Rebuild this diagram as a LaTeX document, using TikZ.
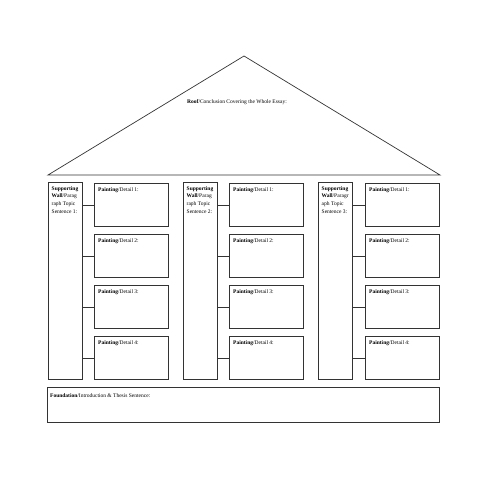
\documentclass[tikz,border=0pt]{standalone}
\usepackage{fontspec}
\setmainfont{Liberation Serif}
\begin{document}
\begin{tikzpicture}[x=1pt,y=-1pt,
  frame/.style={draw=black!80,line width=0.9pt,rectangle,inner sep=0pt,anchor=north west},
  roofline/.style={draw=black!80,line width=0.7pt},
  link/.style={draw=black!80,line width=0.8pt},
  lbl/.style={font=\fontsize{5.5}{7.9}\selectfont,inner sep=0pt,anchor=north west,align=left}]
\useasboundingbox (0,0) rectangle (495,495);
% roof
\coordinate (rl) at (48,175);
\coordinate (rr) at (440,175);
\coordinate (ra) at (244,56);
\draw[roofline] (rl) -- (ra) -- (rr) -- cycle;
\node[lbl,anchor=center] (rooftxt) at (237,102) {\textbf{Roof}/Conclusion Covering the Whole Essay:};
% columns
\foreach \i/\cx/\bx/\txt in {1/48/94/{\textbf{Supporting}\\\textbf{Wall}/Parag\\raph Topic\\Sentence 1:},
                             2/183/229/{\textbf{Supporting}\\\textbf{Wall}/Parag\\raph Topic\\Sentence 2:},
                             3/318/365/{\textbf{Supporting}\\\textbf{Wall}/Paragr\\aph Topic\\Sentence 3:}}{
  \node[frame,minimum width=34pt,minimum height=197pt] (col\i) at (\cx,182) {};
  \node[lbl] (colt\i) at ([xshift=3.5pt,yshift=-4pt]col\i.north west) {\txt};
  \foreach \j/\by in {1/183,2/234,3/285,4/336}{
    \node[frame,minimum width=74pt,minimum height=43pt] (b\i\j) at (\bx,\by) {};
    \node[lbl] (bt\i\j) at ([xshift=4pt,yshift=-4pt]b\i\j.north west) {\textbf{Painting}/Detail \j:};
    \draw[link] (col\i.east |- b\i\j.west) -- (b\i\j.west);
  }
}
% foundation
\node[frame,minimum width=392pt,minimum height=35pt] (found) at (47,387) {};
\node[lbl] (foundt) at ([xshift=3pt,yshift=-6pt]found.north west) {\textbf{Foundation}/Introduction \& Thesis Sentence:};
\end{tikzpicture}
\end{document}
